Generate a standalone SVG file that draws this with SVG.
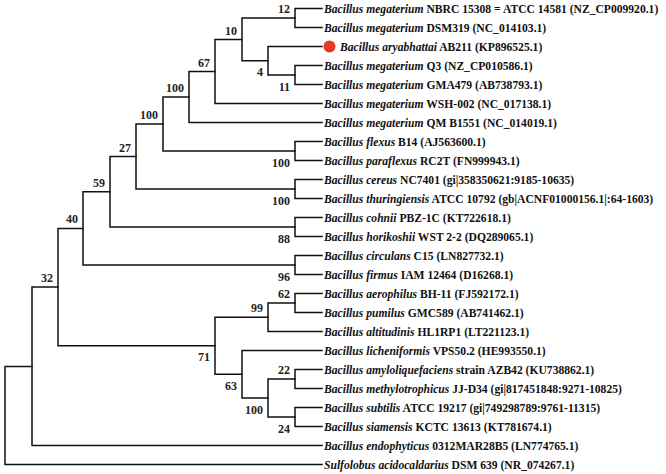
<svg xmlns="http://www.w3.org/2000/svg" width="666" height="474" viewBox="0 0 666 474">
<style>
.bg{fill:#ffffff}
.e{fill:none;stroke:#111;stroke-width:1.5;stroke-linecap:square}
.lf{font-family:"Liberation Serif","Times New Roman",serif;font-size:11.6px;font-weight:bold;fill:#111}
.lf .i{font-style:italic}
.bs{font-family:"Liberation Serif","Times New Roman",serif;font-size:12px;font-weight:bold;fill:#222;text-anchor:end}
.dot{fill:#e53b24}
</style>
<rect class="bg" x="0" y="0" width="666" height="474"/>
<g id="connectors">
<path class="e" d="M32 366.4H5V464.5H322"/>
<path class="e" d="M58 287H32V445.5H322"/>
<path class="e" d="M83 228.4H58V345.75H215"/>
<path class="e" d="M110 191.75H83V265H295"/>
<path class="e" d="M136 156.5H110V227H295"/>
<path class="e" d="M163 124H136V189H295"/>
<path class="e" d="M189 97H163V151H295"/>
<path class="e" d="M215 71.4H189V122.5H322"/>
<path class="e" d="M242 39.4H215V103.5H322"/>
<path class="e" d="M295 18H242V60.75H268"/>
<path class="e" d="M322 46.5H268V75H295"/>
<path class="e" d="M322 8.5H295V27.5H322"/>
<path class="e" d="M322 65.5H295V84.5H322"/>
<path class="e" d="M322 141.5H295V160.5H322"/>
<path class="e" d="M322 179.5H295V198.5H322"/>
<path class="e" d="M322 217.5H295V236.5H322"/>
<path class="e" d="M322 255.5H295V274.5H322"/>
<path class="e" d="M268 317.25H215V374.25H242"/>
<path class="e" d="M295 303H268V331.5H322"/>
<path class="e" d="M322 293.5H295V312.5H322"/>
<path class="e" d="M322 350.5H242V398H268"/>
<path class="e" d="M295 379H268V417H295"/>
<path class="e" d="M322 369.5H295V388.5H322"/>
<path class="e" d="M322 407.5H295V426.5H322"/>
</g>
<g id="leaf0"><text class="lf" x="324" y="12.5"><tspan class="i">Bacillus megaterium</tspan> NBRC 15308 = ATCC 14581 (NZ_CP009920.1)</text></g>
<g id="leaf1"><text class="lf" x="324" y="31.5"><tspan class="i">Bacillus megaterium</tspan> DSM319 (NC_014103.1)</text></g>
<g id="leaf2"><circle class="dot" cx="329.5" cy="46.5" r="6"/><text class="lf" x="340" y="50.5"><tspan class="i">Bacillus aryabhattai</tspan> AB211 (KP896525.1)</text></g>
<g id="leaf3"><text class="lf" x="324" y="69.5"><tspan class="i">Bacillus megaterium</tspan> Q3 (NZ_CP010586.1)</text></g>
<g id="leaf4"><text class="lf" x="324" y="88.5"><tspan class="i">Bacillus megaterium</tspan> GMA479 (AB738793.1)</text></g>
<g id="leaf5"><text class="lf" x="324" y="107.5"><tspan class="i">Bacillus megaterium</tspan> WSH-002 (NC_017138.1)</text></g>
<g id="leaf6"><text class="lf" x="324" y="126.5"><tspan class="i">Bacillus megaterium</tspan> QM B1551 (NC_014019.1)</text></g>
<g id="leaf7"><text class="lf" x="324" y="145.5"><tspan class="i">Bacillus flexus</tspan> B14 (AJ563600.1)</text></g>
<g id="leaf8"><text class="lf" x="324" y="164.5"><tspan class="i">Bacillus paraflexus</tspan> RC2T (FN999943.1)</text></g>
<g id="leaf9"><text class="lf" x="324" y="183.5"><tspan class="i">Bacillus cereus</tspan> NC7401 (gi|358350621:9185-10635)</text></g>
<g id="leaf10"><text class="lf" x="324" y="202.5"><tspan class="i">Bacillus thuringiensis</tspan> ATCC 10792 (gb|ACNF01000156.1|:64-1603)</text></g>
<g id="leaf11"><text class="lf" x="324" y="221.5"><tspan class="i">Bacillus cohnii</tspan> PBZ-1C (KT722618.1)</text></g>
<g id="leaf12"><text class="lf" x="324" y="240.5"><tspan class="i">Bacillus horikoshii</tspan> WST 2-2 (DQ289065.1)</text></g>
<g id="leaf13"><text class="lf" x="324" y="259.5"><tspan class="i">Bacillus circulans</tspan> C15 (LN827732.1)</text></g>
<g id="leaf14"><text class="lf" x="324" y="278.5"><tspan class="i">Bacillus firmus</tspan> IAM 12464 (D16268.1)</text></g>
<g id="leaf15"><text class="lf" x="324" y="297.5"><tspan class="i">Bacillus aerophilus</tspan> BH-11 (FJ592172.1)</text></g>
<g id="leaf16"><text class="lf" x="324" y="316.5"><tspan class="i">Bacillus pumilus</tspan> GMC589 (AB741462.1)</text></g>
<g id="leaf17"><text class="lf" x="324" y="335.5"><tspan class="i">Bacillus altitudinis</tspan> HL1RP1 (LT221123.1)</text></g>
<g id="leaf18"><text class="lf" x="324" y="354.5"><tspan class="i">Bacillus licheniformis</tspan> VPS50.2 (HE993550.1)</text></g>
<g id="leaf19"><text class="lf" x="324" y="373.5"><tspan class="i">Bacillus amyloliquefaciens</tspan> strain AZB42 (KU738862.1)</text></g>
<g id="leaf20"><text class="lf" x="324" y="392.5"><tspan class="i">Bacillus methylotrophicus</tspan> JJ-D34 (gi|817451848:9271-10825)</text></g>
<g id="leaf21"><text class="lf" x="324" y="411.5"><tspan class="i">Bacillus subtilis</tspan> ATCC 19217 (gi|749298789:9761-11315)</text></g>
<g id="leaf22"><text class="lf" x="324" y="430.5"><tspan class="i">Bacillus siamensis</tspan> KCTC 13613 (KT781674.1)</text></g>
<g id="leaf23"><text class="lf" x="324" y="449.5"><tspan class="i">Bacillus endophyticus</tspan> 0312MAR28B5 (LN774765.1)</text></g>
<g id="leaf24"><text class="lf" x="324" y="468.5"><tspan class="i">Sulfolobus acidocaldarius</tspan> DSM 639 (NR_074267.1)</text></g>
<g id="nodeA"><text class="bs" x="290" y="13">12</text></g>
<g id="nodeB"><text class="bs" x="290" y="90.5">11</text></g>
<g id="nodeC"><text class="bs" x="263" y="76">4</text></g>
<g id="nodeD"><text class="bs" x="237" y="34.5">10</text></g>
<g id="nodeE"><text class="bs" x="210" y="66.5">67</text></g>
<g id="nodeF"><text class="bs" x="184" y="92">100</text></g>
<g id="nodeH"><text class="bs" x="158" y="119">100</text></g>
<g id="nodeG"><text class="bs" x="290" y="166.5">100</text></g>
<g id="nodeJ"><text class="bs" x="131" y="151.5">27</text></g>
<g id="nodeI"><text class="bs" x="290" y="204.5">100</text></g>
<g id="nodeL"><text class="bs" x="105" y="186.75">59</text></g>
<g id="nodeK"><text class="bs" x="290" y="242.5">88</text></g>
<g id="nodeN"><text class="bs" x="78" y="223.4">40</text></g>
<g id="nodeM"><text class="bs" x="290" y="280.5">96</text></g>
<g id="nodeV"><text class="bs" x="53" y="282">32</text></g>
<g id="nodeO"><text class="bs" x="290" y="298">62</text></g>
<g id="nodeP"><text class="bs" x="263" y="312.25">99</text></g>
<g id="nodeU"><text class="bs" x="210" y="361.25">71</text></g>
<g id="nodeT"><text class="bs" x="237" y="389.75">63</text></g>
<g id="nodeQ"><text class="bs" x="290" y="374">22</text></g>
<g id="nodeS"><text class="bs" x="263" y="413.5">100</text></g>
<g id="nodeR"><text class="bs" x="290" y="432.5">24</text></g>
</svg>
